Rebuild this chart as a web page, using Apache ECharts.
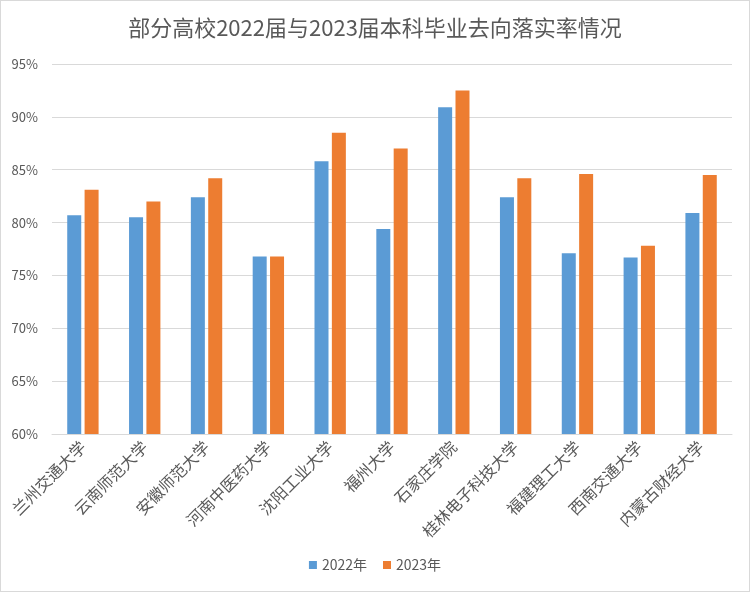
<!DOCTYPE html>
<html>
<head>
<meta charset="utf-8">
<script src="https://cdn.jsdelivr.net/npm/echarts@6/dist/echarts.min.js"></script>
<style>
  html, body { margin: 0; padding: 0; background: #fff; }
  #chart { width: 748px; height: 590px; border: 1px solid #d9d9d9; }
</style>
</head>
<body>
<div id="chart"></div>
<script type="text/javascript">
    // 学校名称
    var schools = ['兰州交通大学', '云南师范大学', '安徽师范大学', '河南中医药大学', '沈阳工业大学', '福州大学',
                   '石家庄学院', '桂林电子科技大学', '福建理工大学', '西南交通大学', '内蒙古财经大学'];
    // 2022届落实率（%）
    var rate2022 = [80.7, 80.5, 82.4, 76.8, 85.8, 79.4, 90.9, 82.4, 77.1, 76.7, 80.9];
    // 2023届落实率（%）
    var rate2023 = [83.1, 82.0, 84.2, 76.8, 88.5, 87.0, 92.5, 84.2, 84.6, 77.8, 84.5];
    var seriesNames = ['2022年', '2023年'];

    var myChart = echarts.init(document.getElementById('chart'));
    var font = '"Noto Sans CJK SC", "Microsoft YaHei", sans-serif';

    var option = {
        backgroundColor: '#fff',
        textStyle: { fontFamily: font },
        title: {
            text: '部分高校2022届与2023届本科毕业去向落实率情况',
            left: 'center',
            top: 11,
            textStyle: { color: '#595959', fontSize: 22, fontWeight: 'normal', fontFamily: font }
        },
        color: ['#5b9bd5', '#ed7d31'],
        legend: {
            data: seriesNames,
            bottom: 14,
            left: 'center',
            itemWidth: 8,
            itemHeight: 8,
            itemGap: 16,
            icon: 'rect',
            textStyle: { color: '#595959', fontSize: 14, fontFamily: font }
        },
        grid: {
            left: 51,
            right: 17,
            top: 63,
            bottom: 157
        },
        xAxis: {
            type: 'category',
            data: schools,
            axisLine: { lineStyle: { color: '#d9d9d9', width: 1 } },
            axisTick: { show: false },
            axisLabel: {
                rotate: 45,
                interval: 0,
                color: '#595959',
                fontSize: 16,
                margin: 10,
                fontFamily: font
            }
        },
        yAxis: {
            type: 'value',
            min: 60,
            max: 95,
            interval: 5,
            axisLine: { show: false },
            axisTick: { show: false },
            splitLine: { lineStyle: { color: '#d9d9d9', width: 1 } },
            axisLabel: {
                formatter: '{value}%',
                color: '#595959',
                fontSize: 13,
                margin: 14,
                fontFamily: font
            }
        },
        series: [
            {
                name: seriesNames[0],
                type: 'bar',
                data: rate2022,
                barWidth: 14,
                barGap: '24%'
            },
            {
                name: seriesNames[1],
                type: 'bar',
                data: rate2023,
                barWidth: 14,
                barGap: '24%'
            }
        ]
    };

    myChart.setOption(option);
</script>
</body>
</html>
